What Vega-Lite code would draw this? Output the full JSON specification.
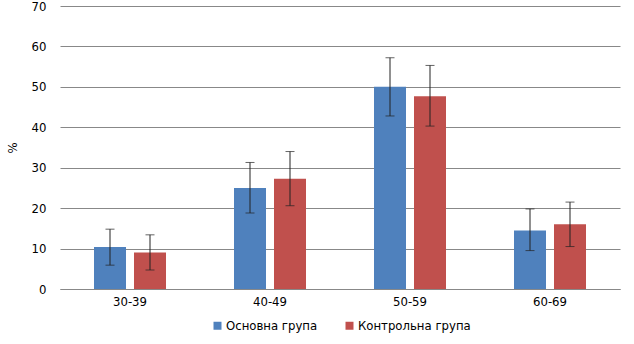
{
  "$schema": "https://vega.github.io/schema/vega-lite/v6.json",
  "autosize": {"type": "none"},
  "width": 560,
  "height": 283,
  "padding": {"left": 60, "top": 6, "right": 14, "bottom": 55},
  "background": "white",
  "config": {
    "view": {"stroke": null},
    "font": "DejaVu Sans Condensed",
    "axis": {"labelFont": "DejaVu Sans Condensed", "titleFont": "DejaVu Sans Condensed", "labelColor": "#000", "titleColor": "#000"},
    "legend": {"labelFont": "DejaVu Sans Condensed", "labelColor": "#000"}
  },
  "data": {
    "values": [
      {"age": "30-39", "group": "Основна група", "value": 10.4, "lo": 5.9, "hi": 14.8},
      {"age": "30-39", "group": "Контрольна група", "value": 9.0, "lo": 4.7, "hi": 13.4},
      {"age": "40-49", "group": "Основна група", "value": 25.0, "lo": 18.8, "hi": 31.3},
      {"age": "40-49", "group": "Контрольна група", "value": 27.3, "lo": 20.6, "hi": 34.0},
      {"age": "50-59", "group": "Основна група", "value": 50.0, "lo": 42.8, "hi": 57.2},
      {"age": "50-59", "group": "Контрольна група", "value": 47.7, "lo": 40.3, "hi": 55.3},
      {"age": "60-69", "group": "Основна група", "value": 14.5, "lo": 9.5, "hi": 19.8},
      {"age": "60-69", "group": "Контрольна група", "value": 16.0, "lo": 10.5, "hi": 21.5}
    ]
  },
  "encoding": {
    "x": {
      "field": "age", "type": "nominal", "title": null,
      "scale": {"paddingInner": 0, "paddingOuter": 0},
      "axis": {"labelAngle": 0, "ticks": false, "labelPadding": 6, "labelFontSize": 13, "domainColor": "#888", "domainWidth": 1}
    },
    "xOffset": {
      "field": "group", "type": "nominal",
      "sort": ["Основна група", "Контрольна група"],
      "scale": {"paddingInner": 0.2, "paddingOuter": 0.85}
    }
  },
  "layer": [
    {
      "mark": {"type": "bar"},
      "encoding": {
        "y": {
          "field": "value", "type": "quantitative", "title": "%",
          "scale": {"domain": [0, 70], "nice": false},
          "axis": {"values": [0, 10, 20, 30, 40, 50, 60, 70], "domain": false, "ticks": false, "labelPadding": 14, "labelFontSize": 13, "titleFontSize": 13, "titleFontWeight": "normal", "titlePadding": 12, "gridColor": "#888", "gridOpacity": 1}
        },
        "color": {
          "field": "group", "type": "nominal",
          "sort": ["Основна група", "Контрольна група"],
          "scale": {"domain": ["Основна група", "Контрольна група"], "range": ["#4F81BD", "#C0504D"]},
          "legend": {"orient": "none", "legendX": 151, "legendY": 313, "padding": 0, "direction": "horizontal", "title": null, "symbolType": "square", "symbolSize": 64, "symbolStrokeWidth": 0, "symbolOffset": 0, "labelOffset": 2, "labelFontSize": 13, "columnPadding": 25}
        }
      }
    },
    {
      "mark": {"type": "rule", "color": "#222", "strokeWidth": 1},
      "encoding": {
        "y": {"field": "lo", "type": "quantitative"},
        "y2": {"field": "hi"}
      }
    },
    {
      "mark": {"type": "tick", "color": "#222", "thickness": 1, "size": 9},
      "encoding": {"y": {"field": "lo", "type": "quantitative"}}
    },
    {
      "mark": {"type": "tick", "color": "#222", "thickness": 1, "size": 9},
      "encoding": {"y": {"field": "hi", "type": "quantitative"}}
    }
  ]
}
